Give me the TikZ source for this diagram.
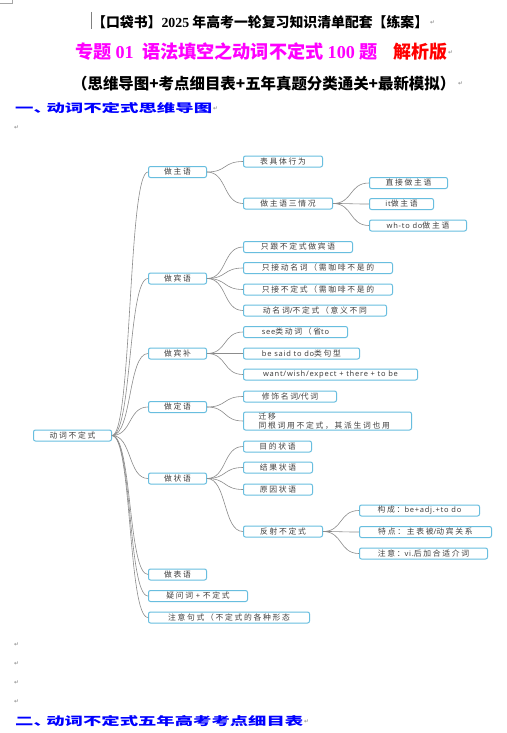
\documentclass[tikz,border=0pt]{standalone}
\usepackage{fontspec}
\usepackage{graphicx}
\setmainfont{Liberation Serif}
\newfontfamily\cjk{Noto Sans CJK SC}
\newfontfamily\cjkmap{Noto Sans CJK SC}[LetterSpace=22]
\newfontfamily\latmap{Noto Sans}[LetterSpace=10]
\newfontfamily\symf{DejaVu Sans}
\definecolor{boxblue}{HTML}{68BEDF}
\definecolor{linegray}{HTML}{8C8C8C}
\definecolor{txtgray}{HTML}{404040}
\definecolor{hmag}{HTML}{FF00FF}
\definecolor{hred}{HTML}{FF0000}
\definecolor{hblue}{HTML}{0000FF}
\newcommand\ml[1]{{\latmap\fontsize{7.5}{8}\selectfont #1}}
\newcommand\dg[1]{{\rmfamily\bfseries #1}}
\tikzset{
  mapbox/.style={draw=boxblue, line width=1pt, rounded corners=2pt, fill=white,
    minimum height=11pt, inner sep=0pt, anchor=west, text=txtgray,
    font=\cjkmap\fontsize{7.8}{9}\selectfont},
  conn/.style={draw=linegray, line width=0.6pt},
  head/.style={inner sep=0pt, anchor=west},
  pm/.style={inner sep=0pt, anchor=west, text=gray, font=\symf\fontsize{6}{6}\selectfont}
}
\begin{document}
\begin{tikzpicture}[x=1pt,y=-1pt]
\useasboundingbox (0,0) rectangle (506,733);
\fill[white] (0,0) rectangle (506,733);
% corner mark and cursor
\draw[gray!70, line width=0.5pt] (0,3) -- (12,3) -- (12,0);
\draw[gray, line width=0.5pt] (91,12) -- (91,29);
% headings
\node[head] (h1) at (92,22) {\resizebox{336pt}{!}{\cjk\bfseries 【口袋书】\dg{2025} 年高考一轮复习知识清单配套【练案】}};
\node[head, text=hmag] (h2a) at (75,52) {\resizebox{302pt}{!}{\cjk\bfseries 专题 \dg{01}\ \ 语法填空之动词不定式 \dg{100} 题}};
\node[head, text=hred] (h2b) at (393,52) {\resizebox{54pt}{!}{\cjk\bfseries 解析版}};
\node[head] (h3) at (72,84) {\resizebox{383pt}{!}{\cjk\bfseries （思维导图+考点细目表+五年真题分类通关+最新模拟）}};
\node[head, text=hblue] (h4) at (15,108) {\resizebox{197pt}{10pt}{\cjk\bfseries 一、\kern-0.3em 动词不定式思维导图}};
\node[head, text=hblue] (h5) at (15,721) {\resizebox{288pt}{10pt}{\cjk\bfseries 二、\kern-0.3em 动词不定式五年高考考点细目表}};
% paragraph marks
\node[pm] (p1) at (430,23) {↵};
\node[pm] (p2) at (448,53) {↵};
\node[pm] (p3) at (458,84) {↵};
\node[pm] (p4) at (213,109) {↵};
\node[pm] (p5) at (14,128) {↵};
\node[pm] (p6) at (14,645) {↵};
\node[pm] (p7) at (14,664) {↵};
\node[pm] (p8) at (14,683) {↵};
\node[pm] (p9) at (14,702) {↵};
\node[pm] (p10) at (304,722) {↵};
% root
\node[mapbox, minimum width=78pt] (root) at (33,435.5) {动词不定式};
% level 1
\node[mapbox, minimum width=58pt] (zy) at (148,172) {做主语};
\node[mapbox, minimum width=58pt] (by) at (148,278.5) {做宾语};
\node[mapbox, minimum width=58pt] (bb) at (148,353.5) {做宾补};
\node[mapbox, minimum width=58pt] (dy) at (148,407) {做定语};
\node[mapbox, minimum width=58pt] (zhy) at (148,478.5) {做状语};
\node[mapbox, minimum width=58pt] (bi) at (148,574.5) {做表语};
\node[mapbox, minimum width=99pt] (yw) at (148,596) {疑问词\ml{ + }不定式};
\node[mapbox, minimum width=161pt] (zs) at (148,617.5) {注意句式（不定式的各种形态};
% level 2
\node[mapbox, minimum width=79pt] (a1) at (243,161.5) {表具体行为};
\node[mapbox, minimum width=89pt] (a2) at (243,203.5) {做主语三情况};
\node[mapbox, minimum width=109pt] (b1) at (243,247) {只跟不定式做宾语};
\node[mapbox, minimum width=149pt] (b2) at (243,268) {只接动名词（需咖啡不是的};
\node[mapbox, minimum width=149pt] (b3) at (243,289.5) {只接不定式（需咖啡不是的};
\node[mapbox, minimum width=143pt] (b4) at (243,310.5) {动名词\ml{/}不定式（意义不同};
\node[mapbox, minimum width=104pt] (c1) at (243,332) {\ml{see}类动词（省\ml{to}};
\node[mapbox, minimum width=116pt] (c2) at (243,353.5) {\ml{be said to do}类句型};
\node[mapbox, minimum width=174pt] (c3) at (243,374.5) {\ml{want/wish/expect + there + to be}};
\node[mapbox, minimum width=93pt] (d1) at (243,396.5) {修饰名词\ml{/}代词};
\node[mapbox, minimum height=18pt, inner xsep=15pt, text width=138pt, align=left] (d2) at (243,421) {迁移\\同根词用不定式，其派生词也用};
\node[mapbox, minimum width=68pt] (e1) at (243,446.5) {目的状语};
\node[mapbox, minimum width=69pt] (e2) at (243,467.5) {结果状语};
\node[mapbox, minimum width=69pt] (e3) at (243,489.5) {原因状语};
\node[mapbox, minimum width=79pt] (e4) at (243,531.5) {反射不定式};
% level 3
\node[mapbox, minimum width=78pt] (f1) at (369,183) {直接做主语};
\node[mapbox, minimum width=64pt] (f2) at (369,204) {\ml{it}做主语};
\node[mapbox, minimum width=97pt] (f3) at (369,225.5) {\ml{wh-to do}做主语};
\node[mapbox, minimum width=120pt] (g1) at (359,510.5) {构成：\ml{be+adj.+to do}};
\node[mapbox, minimum width=132pt] (g2) at (359,532) {特点：主表被\ml{/}动宾关系};
\node[mapbox, minimum width=128pt] (g3) at (359,553.5) {注意：\ml{vi.}后加合适介词};
% connectors
\foreach \p/\c in {root/zy,root/by,root/bb,root/dy,root/zhy,root/bi,root/yw,root/zs,
  zy/a1,zy/a2,by/b1,by/b2,by/b3,by/b4,bb/c1,bb/c2,bb/c3,dy/d1,dy/d2,
  zhy/e1,zhy/e2,zhy/e3,zhy/e4,a2/f1,a2/f2,a2/f3,e4/g1,e4/g2,e4/g3}
  \draw[conn] (\p.east) .. controls +(20,0) and +(-20,0) .. (\c.west);
\end{tikzpicture}
\end{document}
